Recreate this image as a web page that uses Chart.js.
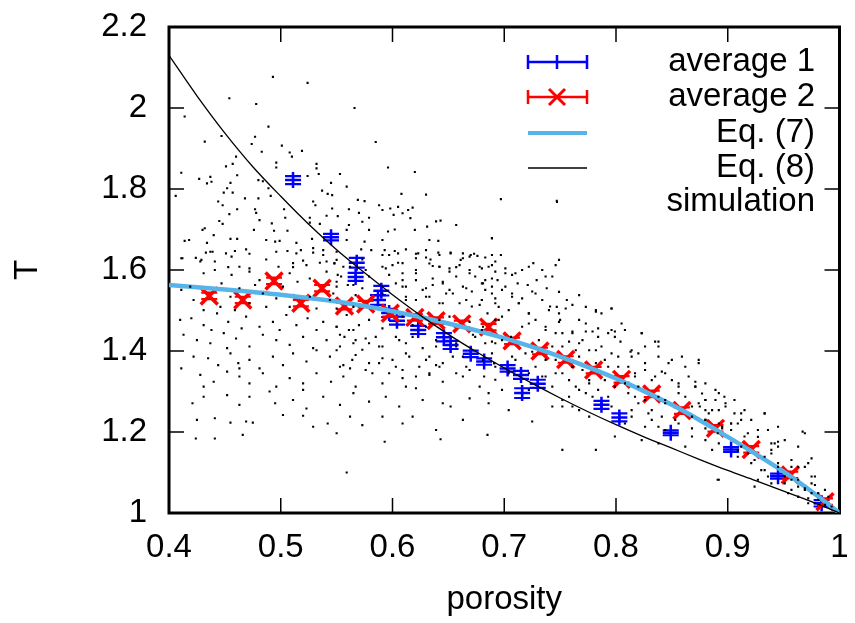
<!DOCTYPE html>
<html>
<head>
<meta charset="utf-8">
<script src="https://cdn.jsdelivr.net/npm/chart.js@4.4.1/dist/chart.umd.min.js"></script>
<style>
  html, body { margin: 0; padding: 0; background: #fff; }
  #wrap { width: 855px; height: 623px; }
</style>
</head>
<body>
<div id="wrap"><canvas id="chart" width="855" height="623"></canvas></div>
<script>
// average 1 (blue, y error bars)
const avg1X = [0.511, 0.545, 0.568, 0.567, 0.590, 0.587, 0.597, 0.604, 0.623, 0.646, 0.652, 0.670, 0.682, 0.703, 0.715, 0.716, 0.730, 0.787, 0.803, 0.849, 0.903, 0.945, 0.984];
const avg1Y = [1.822, 1.681, 1.618, 1.583, 1.549, 1.526, 1.494, 1.475, 1.452, 1.434, 1.415, 1.393, 1.374, 1.357, 1.341, 1.296, 1.319, 1.267, 1.236, 1.198, 1.157, 1.091, 1.024];
const avg1YErr = [0.010, 0.008, 0.012, 0.010, 0.012, 0.012, 0.010, 0.010, 0.010, 0.010, 0.010, 0.008, 0.008, 0.008, 0.010, 0.012, 0.010, 0.010, 0.010, 0.006, 0.006, 0.006, 0.008];

// average 2 (red)
const avg2X = [0.436, 0.466, 0.494, 0.518, 0.537, 0.557, 0.576, 0.598, 0.620, 0.639, 0.662, 0.686, 0.707, 0.732, 0.755, 0.780, 0.805, 0.832, 0.859, 0.889, 0.921, 0.956, 0.987];
const avg2Y = [1.536, 1.526, 1.573, 1.518, 1.555, 1.511, 1.516, 1.493, 1.483, 1.475, 1.467, 1.459, 1.425, 1.400, 1.379, 1.353, 1.330, 1.294, 1.253, 1.209, 1.157, 1.094, 1.028];
const avg2YErr = [0.008, 0.008, 0.008, 0.008, 0.008, 0.008, 0.008, 0.008, 0.008, 0.008, 0.008, 0.008, 0.008, 0.008, 0.008, 0.008, 0.008, 0.008, 0.008, 0.008, 0.008, 0.008, 0.008];

// Eq. (7) curve
const eq7X = [0.40, 0.45, 0.50, 0.55, 0.60, 0.65, 0.70, 0.725, 0.75, 0.775, 0.80, 0.825, 0.85, 0.875, 0.90, 0.925, 0.95, 0.975, 1.00];
const eq7Y = [1.563, 1.552, 1.539, 1.522, 1.498, 1.468, 1.432, 1.410, 1.386, 1.360, 1.332, 1.301, 1.267, 1.229, 1.188, 1.146, 1.102, 1.053, 1.000];

// Eq. (8) curve
const eq8X = [0.40, 0.425, 0.45, 0.475, 0.50, 0.525, 0.55, 0.575, 0.60, 0.625, 0.65, 0.675, 0.70, 0.725, 0.75, 0.775, 0.80, 0.825, 0.85, 0.875, 0.90, 0.925, 0.95, 0.975, 1.00];
const eq8Y = [2.130, 2.030, 1.938, 1.855, 1.782, 1.713, 1.650, 1.593, 1.539, 1.488, 1.441, 1.398, 1.358, 1.320, 1.284, 1.250, 1.218, 1.188, 1.160, 1.132, 1.105, 1.080, 1.054, 1.028, 1.000];

// simulation scatter [porosity, T]
const simulation = [
  [0.493,2.077],[0.524,2.062],[0.454,2.024],[0.478,2.010],[0.566,2.000],[0.414,1.979],[0.489,1.954],[0.447,1.931],[0.477,1.929],[0.432,1.917],
  [0.474,1.911],[0.585,1.916],[0.501,1.907],[0.483,1.892],[0.508,1.890],[0.519,1.894],[0.510,1.880],[0.460,1.880],[0.496,1.865],[0.532,1.862],
  [0.451,1.856],[0.457,1.862],[0.496,1.853],[0.532,1.851],[0.596,1.853],[0.411,1.840],[0.620,1.842],[0.524,1.832],[0.534,1.837],[0.553,1.837],
  [0.461,1.834],[0.437,1.830],[0.427,1.825],[0.434,1.814],[0.438,1.818],[0.480,1.822],[0.484,1.819],[0.545,1.815],[0.559,1.806],[0.455,1.815],
  [0.452,1.802],[0.489,1.802],[0.406,1.783],[0.449,1.791],[0.457,1.791],[0.537,1.796],[0.542,1.788],[0.546,1.785],[0.608,1.788],[0.630,1.786],
  [0.491,1.783],[0.468,1.777],[0.569,1.773],[0.575,1.770],[0.444,1.769],[0.480,1.777],[0.529,1.769],[0.588,1.760],[0.448,1.760],[0.531,1.760],
  [0.546,1.752],[0.561,1.750],[0.591,1.748],[0.605,1.756],[0.598,1.752],[0.618,1.754],[0.614,1.748],[0.461,1.750],[0.477,1.750],[0.503,1.750],
  [0.454,1.738],[0.478,1.741],[0.570,1.741],[0.541,1.734],[0.551,1.733],[0.601,1.736],[0.609,1.740],[0.445,1.721],[0.504,1.729],[0.526,1.729],
  [0.579,1.729],[0.616,1.728],[0.639,1.720],[0.643,1.722],[0.657,1.711],[0.432,1.703],[0.481,1.723],[0.492,1.715],[0.448,1.714],[0.526,1.717],
  [0.535,1.714],[0.561,1.711],[0.573,1.719],[0.596,1.695],[0.602,1.700],[0.620,1.699],[0.631,1.707],[0.430,1.699],[0.440,1.686],[0.476,1.699],
  [0.494,1.697],[0.506,1.697],[0.559,1.699],[0.579,1.699],[0.689,1.678],[0.414,1.672],[0.418,1.674],[0.455,1.677],[0.461,1.677],[0.487,1.674],
  [0.495,1.670],[0.499,1.672],[0.514,1.667],[0.559,1.674],[0.575,1.670],[0.591,1.674],[0.633,1.674],[0.641,1.672],[0.434,1.667],[0.528,1.677],
  [0.433,1.643],[0.439,1.645],[0.451,1.641],[0.459,1.647],[0.469,1.651],[0.506,1.647],[0.518,1.649],[0.529,1.654],[0.538,1.649],[0.550,1.645],
  [0.572,1.651],[0.581,1.649],[0.593,1.649],[0.602,1.647],[0.612,1.651],[0.623,1.641],[0.630,1.649],[0.641,1.643],[0.652,1.641],[0.663,1.641],
  [0.670,1.637],[0.676,1.635],[0.689,1.637],[0.412,1.629],[0.424,1.630],[0.429,1.625],[0.441,1.621],[0.453,1.607],[0.463,1.608],[0.472,1.604],
  [0.487,1.626],[0.498,1.608],[0.511,1.607],[0.520,1.623],[0.535,1.618],[0.541,1.621],[0.550,1.625],[0.597,1.637],[0.605,1.618],[0.621,1.629],
  [0.634,1.626],[0.642,1.608],[0.651,1.604],[0.661,1.625],[0.669,1.633],
  [0.437,1.645],[0.428,1.621],[0.456,1.633],[0.472,1.640],[0.496,1.645],[0.514,1.641],[0.529,1.643],[0.538,1.637],[0.573,1.626],[0.591,1.637],
  [0.605,1.641],[0.621,1.640],[0.630,1.631],[0.642,1.637],[0.652,1.643],[0.663,1.629],[0.673,1.640],[0.683,1.631],[0.692,1.621],[0.411,1.629],
  [0.511,1.617],[0.523,1.612],[0.548,1.617],[0.562,1.608],[0.594,1.604],[0.609,1.617],[0.636,1.610],[0.657,1.607],[0.678,1.608],
  [0.431,1.592],[0.441,1.600],[0.456,1.588],[0.472,1.596],[0.481,1.575],[0.508,1.592],[0.515,1.571],[0.526,1.579],[0.541,1.596],[0.554,1.584],
  [0.579,1.584],[0.597,1.588],[0.609,1.575],[0.621,1.592],[0.636,1.579],[0.645,1.571],[0.657,1.584],[0.669,1.592],[0.681,1.567],[0.689,1.579],
  [0.419,1.559],[0.447,1.567],[0.463,1.555],[0.477,1.563],[0.502,1.559],[0.550,1.559],[0.565,1.563],[0.573,1.555],[0.609,1.559],[0.630,1.555],
  [0.651,1.551],[0.666,1.555],[0.683,1.551],
  [0.411,1.551],[0.422,1.526],[0.446,1.509],[0.455,1.534],[0.472,1.518],[0.484,1.542],[0.496,1.530],[0.508,1.509],[0.526,1.534],[0.544,1.526],
  [0.550,1.505],[0.567,1.538],[0.591,1.542],[0.612,1.526],[0.630,1.534],[0.645,1.518],[0.666,1.526],[0.678,1.514],[0.692,1.530],[0.431,1.501],
  [0.459,1.501],[0.487,1.509],[0.532,1.505],[0.565,1.509],
  [0.410,1.477],[0.420,1.481],[0.431,1.464],[0.443,1.493],[0.453,1.472],[0.469,1.485],[0.481,1.460],[0.493,1.472],[0.505,1.489],[0.514,1.464],
  [0.524,1.481],[0.538,1.472],[0.550,1.460],[0.559,1.489],[0.570,1.464],[0.579,1.477],[0.591,1.456],[0.609,1.485],[0.618,1.464],[0.630,1.460],
  [0.642,1.477],[0.651,1.485],[0.669,1.472],[0.681,1.460],[0.692,1.477],[0.438,1.452],[0.465,1.456],[0.499,1.452],[0.532,1.452],[0.565,1.452],
  [0.413,1.440],[0.425,1.427],[0.437,1.419],[0.449,1.444],[0.460,1.431],[0.472,1.411],[0.484,1.440],[0.496,1.427],[0.508,1.415],[0.520,1.435],
  [0.529,1.407],[0.541,1.427],[0.553,1.440],[0.565,1.419],[0.576,1.431],[0.588,1.411],[0.603,1.435],[0.612,1.419],[0.627,1.407],[0.639,1.427],
  [0.657,1.411],[0.672,1.440],[0.689,1.423],[0.452,1.407],[0.550,1.402],
  [0.411,1.357],[0.422,1.386],[0.435,1.382],[0.444,1.365],[0.455,1.394],[0.462,1.370],[0.472,1.378],[0.481,1.357],[0.493,1.386],[0.502,1.365],
  [0.511,1.394],[0.523,1.374],[0.532,1.402],[0.544,1.386],[0.556,1.365],[0.567,1.390],[0.579,1.370],[0.591,1.382],[0.603,1.361],[0.615,1.386],
  [0.630,1.378],[0.639,1.365],[0.654,1.386],[0.666,1.361],[0.681,1.378],[0.691,1.370],[0.463,1.357],[0.562,1.357],
  [0.428,1.341],[0.440,1.324],[0.452,1.349],[0.463,1.337],[0.472,1.320],[0.484,1.345],[0.496,1.312],[0.508,1.333],[0.520,1.320],[0.532,1.345],
  [0.545,1.324],[0.556,1.337],[0.567,1.312],[0.582,1.345],[0.591,1.320],[0.609,1.333],[0.621,1.308],[0.633,1.341],[0.645,1.324],[0.663,1.337],
  [0.678,1.312],[0.692,1.329],[0.431,1.312],[0.520,1.304],[0.612,1.312],
  [0.421,1.271],[0.431,1.287],[0.452,1.291],[0.463,1.267],[0.472,1.287],[0.490,1.300],[0.495,1.271],[0.511,1.279],[0.523,1.258],[0.538,1.287],
  [0.553,1.267],[0.565,1.296],[0.579,1.275],[0.594,1.287],[0.606,1.263],[0.627,1.279],[0.645,1.271],[0.652,1.263],[0.669,1.283],[0.686,1.271],
  [0.425,1.230],[0.441,1.234],[0.455,1.223],[0.469,1.226],[0.475,1.223],[0.502,1.242],[0.520,1.240],[0.529,1.213],[0.542,1.221],[0.562,1.238],
  [0.573,1.217],[0.591,1.238],[0.609,1.221],[0.618,1.238],[0.639,1.205],[0.663,1.230],[0.685,1.193],[0.424,1.184],[0.441,1.184],[0.466,1.193],
  [0.550,1.197],[0.559,1.100],[0.593,1.176],[0.643,1.182],
  [0.697,1.775],[0.747,1.771],[0.689,1.679],
  [0.697,1.637],[0.749,1.625],[0.726,1.617],[0.689,1.612],[0.680,1.604],[0.701,1.592],[0.707,1.588],[0.716,1.600],[0.683,1.575],[0.712,1.567],
  [0.721,1.563],[0.729,1.575],[0.737,1.584],[0.694,1.575],
  [0.680,1.526],[0.689,1.542],[0.701,1.559],[0.707,1.534],[0.713,1.518],[0.728,1.542],[0.738,1.555],[0.749,1.546],[0.756,1.526],[0.740,1.501],
  [0.722,1.493],[0.695,1.509],[0.685,1.493],[0.767,1.538],[0.782,1.497],[0.747,1.509],[0.796,1.505],[0.773,1.509],[0.698,1.485],
  [0.695,1.477],[0.722,1.468],[0.737,1.452],[0.749,1.472],[0.761,1.444],[0.773,1.448],[0.784,1.456],[0.796,1.452],[0.805,1.468],[0.823,1.444],
  [0.838,1.423],[0.706,1.435],[0.692,1.419],[0.731,1.427],[0.743,1.411],[0.767,1.419],[0.782,1.402],[0.799,1.435],[0.814,1.402],[0.826,1.411],
  [0.680,1.452],[0.716,1.460],
  [0.682,1.337],[0.691,1.370],[0.707,1.386],[0.725,1.398],[0.746,1.378],[0.761,1.361],[0.767,1.386],[0.790,1.378],[0.802,1.361],[0.814,1.386],
  [0.826,1.370],[0.838,1.386],[0.850,1.378],[0.862,1.361],[0.874,1.378],[0.737,1.337],[0.752,1.345],[0.776,1.328],[0.817,1.337],[0.832,1.328],
  [0.856,1.320],[0.844,1.345],[0.871,1.324],
  [0.686,1.296],[0.698,1.304],[0.722,1.304],[0.743,1.312],[0.752,1.279],[0.767,1.304],[0.779,1.287],[0.796,1.263],[0.811,1.296],[0.820,1.271],
  [0.832,1.254],[0.844,1.279],[0.856,1.296],[0.868,1.263],[0.880,1.279],[0.886,1.254],[0.897,1.287],[0.871,1.312],[0.725,1.226],[0.704,1.254],
  [0.776,1.238],[0.814,1.238],[0.761,1.263],[0.743,1.263],
  [0.832,1.230],[0.844,1.205],[0.856,1.221],[0.868,1.189],[0.880,1.230],[0.891,1.197],[0.903,1.221],[0.915,1.189],[0.927,1.205],[0.933,1.246],
  [0.939,1.172],[0.862,1.164],[0.838,1.172],[0.823,1.180],[0.782,1.156],[0.752,1.156],[0.799,1.189],[0.909,1.156],[0.886,1.156],[0.945,1.176],
  [0.909,1.139],[0.921,1.123],[0.933,1.106],[0.939,1.147],[0.945,1.123],[0.951,1.090],[0.957,1.114],[0.963,1.082],[0.969,1.114],[0.975,1.090],
  [0.967,1.201],[0.975,1.135],[0.927,1.082],[0.891,1.082],[0.939,1.073],
  [0.957,1.057],[0.963,1.040],[0.969,1.061],[0.975,1.049],[0.981,1.032],[0.987,1.057],[0.978,1.069],[0.993,1.016],[0.990,1.040],[0.972,1.024],
  [0.924,1.065],
  [0.548,1.616],[0.556,1.608],[0.551,1.588],[0.550,1.571],[0.560,1.563],[0.547,1.542],[0.576,1.600],[0.591,1.608],[0.600,1.612],[0.609,1.592],
  [0.621,1.600],[0.633,1.616],[0.642,1.608],[0.651,1.596],[0.660,1.612],[0.669,1.600],[0.674,1.584],[0.686,1.608],[0.692,1.596],[0.701,1.604],
  [0.710,1.592],[0.722,1.608],[0.734,1.600],[0.743,1.584],[0.746,1.612],[0.603,1.567],[0.612,1.559],[0.621,1.575],[0.627,1.551],[0.636,1.563],
  [0.645,1.567],[0.654,1.542],[0.663,1.559],[0.671,1.547],[0.680,1.567],[0.689,1.559],[0.698,1.551],[0.707,1.542],[0.716,1.530],[0.725,1.547],
  [0.734,1.526],[0.741,1.510],[0.749,1.493],[0.612,1.534],[0.621,1.526],[0.633,1.534],[0.642,1.518],[0.648,1.542],[0.660,1.518],[0.671,1.510],
  [0.680,1.526],[0.692,1.518],[0.704,1.501],[0.713,1.518],[0.722,1.493],[0.728,1.477],[0.737,1.460],[0.746,1.444],[0.550,1.460],[0.557,1.435],
  [0.561,1.452],[0.567,1.427],[0.553,1.411],[0.573,1.403],[0.579,1.419],[0.585,1.435],[0.591,1.411],[0.600,1.378],[0.606,1.427],[0.612,1.394],
  [0.618,1.435],[0.624,1.361],[0.633,1.386],[0.639,1.411],[0.645,1.370],[0.657,1.419],[0.663,1.386],[0.674,1.435],[0.683,1.419],[0.689,1.394],
  [0.698,1.427],[0.710,1.378],[0.719,1.394],[0.728,1.361],[0.737,1.378],[0.746,1.345],[0.553,1.361],[0.564,1.378],[0.576,1.353],[0.588,1.370],
  [0.597,1.345],[0.609,1.353],[0.621,1.337],[0.633,1.345],[0.642,1.361],[0.657,1.345],[0.669,1.353],[0.692,1.361],[0.704,1.345],[0.722,1.345],
  [0.734,1.337],
  [0.761,1.514],[0.755,1.505],[0.782,1.501],[0.787,1.493],[0.796,1.505],[0.750,1.477],[0.767,1.477],[0.773,1.468],[0.779,1.448],[0.752,1.444],
  [0.761,1.448],[0.758,1.423],[0.770,1.427],[0.784,1.435],[0.793,1.444],[0.799,1.448],[0.804,1.423],[0.808,1.452],[0.823,1.444],[0.752,1.411],
  [0.764,1.402],[0.776,1.402],[0.787,1.411],[0.796,1.394],[0.802,1.386],[0.813,1.398],[0.820,1.394],[0.835,1.423],[0.838,1.411],[0.847,1.370],
  [0.859,1.386],[0.874,1.370],[0.761,1.361],[0.770,1.353],[0.782,1.370],[0.793,1.361],[0.811,1.361],[0.817,1.345],[0.826,1.353],[0.835,1.337],
  [0.841,1.349],[0.850,1.328],[0.856,1.312],[0.865,1.337],[0.871,1.312],[0.880,1.320],[0.892,1.296],[0.758,1.328],[0.764,1.312],[0.776,1.320],
  [0.790,1.328],[0.799,1.312],[0.808,1.320],[0.820,1.312],[0.817,1.287],[0.826,1.279],[0.838,1.287],[0.844,1.271],[0.862,1.287],[0.874,1.271],
  [0.880,1.254],[0.889,1.279],[0.898,1.263],[0.906,1.246],[0.915,1.254],[0.758,1.287],[0.773,1.296],[0.784,1.304],[0.793,1.287],[0.814,1.254],
  [0.829,1.246],[0.841,1.238],[0.853,1.230],[0.868,1.238],[0.880,1.230],[0.892,1.221],[0.903,1.221],[0.912,1.230],[0.752,1.263],[0.767,1.254],
  [0.808,1.221],[0.826,1.213],[0.838,1.213],[0.868,1.209],[0.880,1.209],[0.895,1.209],
  [0.877,1.295],[0.880,1.279],[0.889,1.304],[0.875,1.263],[0.883,1.246],[0.892,1.254],[0.898,1.271],[0.906,1.279],[0.912,1.246],[0.921,1.230],
  [0.933,1.246],[0.945,1.213],[0.895,1.213],[0.903,1.205],[0.909,1.221],[0.918,1.197],[0.927,1.188],[0.936,1.205],[0.942,1.172],[0.951,1.180],
  [0.963,1.164],[0.969,1.197],[0.880,1.180],[0.892,1.172],[0.912,1.164],[0.918,1.147],[0.924,1.131],[0.933,1.139],[0.939,1.156],[0.945,1.114],
  [0.957,1.131],[0.963,1.114],[0.972,1.123],[0.978,1.090],[0.930,1.106],[0.936,1.090],[0.951,1.073],[0.957,1.082],[0.963,1.065],[0.969,1.057],
  [0.975,1.073],[0.981,1.049],[0.954,1.049],[0.963,1.040],[0.972,1.036],[0.978,1.024],[0.987,1.020],[0.892,1.082],[0.945,1.164]
];

const xTicks = [0.4, 0.5, 0.6, 0.7, 0.8, 0.9, 1];
const yTicks = [1, 1.2, 1.4, 1.6, 1.8, 2, 2.2];

const legendLabels = ['average 1', 'average 2', 'Eq. (7)', 'Eq. (8)', 'simulation'];

const FONT = "'Liberation Sans', Arial, sans-serif";
Chart.defaults.font.family = FONT;
Chart.defaults.color = '#000';

const toPoints = (xs, ys) => xs.map((x, i) => ({ x: x, y: ys[i] }));

// y error bars drawn right after their own dataset, so later datasets sit on top
const errorBars = {
  id: 'errorBars',
  afterDatasetDraw(chart, args) {
    const ds = chart.data.datasets[args.index];
    if (!ds.errY) return;
    const ctx = chart.ctx;
    const xs = chart.scales.x, ys = chart.scales.y;
    ctx.save();
    ctx.strokeStyle = ds.borderColor;
    ctx.lineWidth = 2.2;
    ds.data.forEach((p, i) => {
      const cx = xs.getPixelForValue(p.x);
      const y0 = ys.getPixelForValue(p.y - ds.errY[i]), y1 = ys.getPixelForValue(p.y + ds.errY[i]);
      const cap = ds.capSize;
      ctx.beginPath();
      ctx.moveTo(cx, y0); ctx.lineTo(cx, y1);
      ctx.moveTo(cx - cap, y0); ctx.lineTo(cx + cap, y0);
      ctx.moveTo(cx - cap, y1); ctx.lineTo(cx + cap, y1);
      ctx.stroke();
    });
    ctx.restore();
  }
};

// gnuplot style frame with inward ticks on all four sides, plus the key
const frame = {
  id: 'frame',
  beforeDatasetsDraw(chart) {
    const { ctx, chartArea: a } = chart;
    const xs = chart.scales.x, ys = chart.scales.y;
    const len = 15;
    ctx.save();
    ctx.strokeStyle = '#000';
    ctx.lineWidth = 1.5;
    ctx.beginPath();
    xTicks.slice(1, -1).forEach(v => {
      const px = xs.getPixelForValue(v);
      ctx.moveTo(px, a.bottom); ctx.lineTo(px, a.bottom - len);
      ctx.moveTo(px, a.top); ctx.lineTo(px, a.top + len);
    });
    yTicks.slice(1, -1).forEach(v => {
      const py = ys.getPixelForValue(v);
      ctx.moveTo(a.left, py); ctx.lineTo(a.left + len, py);
      ctx.moveTo(a.right, py); ctx.lineTo(a.right - len, py);
    });
    ctx.stroke();
    ctx.lineWidth = 3;
    ctx.strokeRect(a.left, a.top, a.right - a.left, a.bottom - a.top);
    ctx.restore();
  },
  afterDraw(chart) {
    const ctx = chart.ctx;
    const textRight = 815, s0 = 528, s1 = 587, sc = 557;
    const rows = [62, 97, 133, 168, 202];
    ctx.save();
    const bar = (y, color) => {
      ctx.strokeStyle = color; ctx.lineWidth = 2.5;
      ctx.beginPath();
      ctx.moveTo(s0, y); ctx.lineTo(s1, y);
      ctx.moveTo(s0, y - 7); ctx.lineTo(s0, y + 7);
      ctx.moveTo(s1, y - 7); ctx.lineTo(s1, y + 7);
      ctx.stroke();
    };
    bar(rows[0], '#0000ff');
    ctx.beginPath(); ctx.moveTo(sc, rows[0] - 7); ctx.lineTo(sc, rows[0] + 7); ctx.stroke();
    bar(rows[1], '#ff0000');
    ctx.lineWidth = 3;
    ctx.beginPath();
    ctx.moveTo(sc - 8, rows[1] - 8); ctx.lineTo(sc + 8, rows[1] + 8);
    ctx.moveTo(sc - 8, rows[1] + 8); ctx.lineTo(sc + 8, rows[1] - 8);
    ctx.stroke();
    ctx.strokeStyle = '#56b4e9'; ctx.lineWidth = 4;
    ctx.beginPath(); ctx.moveTo(s0, rows[2]); ctx.lineTo(s1, rows[2]); ctx.stroke();
    ctx.strokeStyle = '#000'; ctx.lineWidth = 1.3;
    ctx.beginPath(); ctx.moveTo(s0, rows[3]); ctx.lineTo(s1, rows[3]); ctx.stroke();
    ctx.fillStyle = '#000';
    ctx.fillRect(sc - 1, rows[4] - 1, 2, 2);
    ctx.font = '33px ' + FONT;
    ctx.textAlign = 'right';
    ctx.textBaseline = 'middle';
    legendLabels.forEach((t, i) => ctx.fillText(t, textRight, rows[i]));
    ctx.restore();
  }
};

const canvas = document.getElementById('chart');

const config = {
  data: {
    datasets: [
      {
        type: 'scatter',
        label: 'simulation',
        data: simulation.map(p => ({ x: p[0], y: p[1] })),
        pointStyle: 'rect',
        pointRadius: 1.5,
        pointBorderWidth: 0,
        backgroundColor: '#000',
        borderColor: '#000',
        order: 0
      },
      {
        type: 'line',
        label: 'Eq. (8)',
        data: toPoints(eq8X, eq8Y),
        borderColor: '#000',
        borderWidth: 1.3,
        pointRadius: 0,
        cubicInterpolationMode: 'monotone',
        order: 1
      },
      {
        type: 'line',
        label: 'Eq. (7)',
        data: toPoints(eq7X, eq7Y),
        borderColor: '#56b4e9',
        borderWidth: 4.5,
        pointRadius: 0,
        cubicInterpolationMode: 'monotone',
        order: 2
      },
      {
        type: 'scatter',
        label: 'average 2',
        data: toPoints(avg2X, avg2Y),
        errY: avg2YErr,
        capSize: 8,
        pointStyle: 'crossRot',
        pointRadius: 12,
        pointBorderWidth: 3.5,
        borderColor: '#ff0000',
        backgroundColor: '#ff0000',
        clip: false,
        order: 3
      },
      {
        type: 'scatter',
        label: 'average 1',
        data: toPoints(avg1X, avg1Y),
        errY: avg1YErr,
        capSize: 8,
        pointStyle: 'cross',
        pointRadius: 8,
        pointBorderWidth: 2.5,
        borderColor: '#0000ff',
        backgroundColor: '#0000ff',
        clip: false,
        order: 4
      }
    ]
  },
  options: {
    responsive: false,
    animation: false,
    devicePixelRatio: 1,
    layout: { padding: { left: 0, right: 13, top: 27, bottom: 0 } },
    plugins: {
      legend: { display: false },
      tooltip: { enabled: false }
    },
    scales: {
      x: {
        type: 'linear',
        min: 0.4,
        max: 1,
        afterBuildTicks: s => { s.ticks = xTicks.map(v => ({ value: v })); },
        afterFit: s => { s.height = 110; s.paddingLeft = 0; s.paddingRight = 0; },
        grid: { display: false, drawTicks: false },
        border: { display: false },
        ticks: {
          padding: 15,
          font: { size: 33 },
          color: '#000',
          callback: v => String(Math.round(v * 10) / 10)
        },
        title: {
          display: true,
          text: 'porosity',
          font: { size: 33 },
          color: '#000',
          padding: { top: 0, bottom: 3 }
        }
      },
      y: {
        type: 'linear',
        min: 1,
        max: 2.2,
        afterBuildTicks: s => { s.ticks = yTicks.map(v => ({ value: v })); },
        afterFit: s => { s.width = 169; s.paddingTop = 0; s.paddingBottom = 0; },
        grid: { display: false, drawTicks: false },
        border: { display: false },
        ticks: {
          padding: 22,
          font: { size: 33 },
          color: '#000',
          callback: v => String(Math.round(v * 10) / 10)
        },
        title: {
          display: true,
          text: 'T',
          font: { size: 33 },
          color: '#000',
          padding: { top: 8, bottom: 0 }
        }
      }
    }
  },
  plugins: [errorBars, frame]
};

const chart = new Chart(canvas, config);
</script>
</body>
</html>
